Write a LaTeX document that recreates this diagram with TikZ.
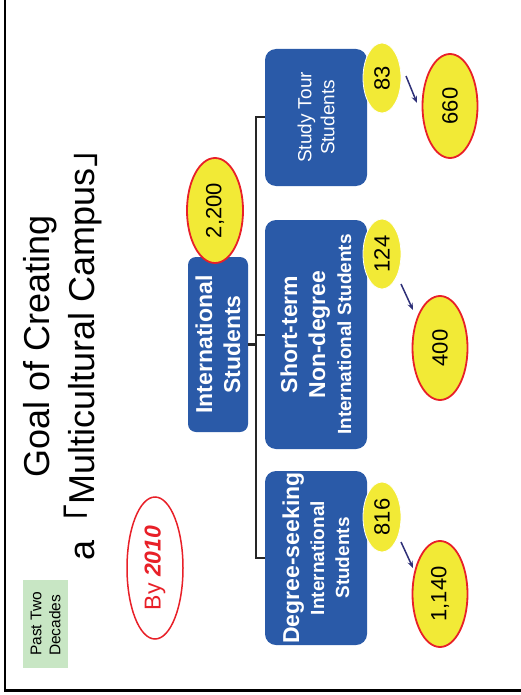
\documentclass[tikz,border=0pt]{standalone}
\usepackage{fontspec}
\setmainfont{Liberation Sans}
\newfontfamily\cjk{Noto Sans CJK JP}
\usetikzlibrary{shapes.geometric,arrows.meta,calc}
\definecolor{boxblue}{RGB}{42,90,168}
\definecolor{ylw}{RGB}{242,234,54}
\definecolor{rd}{RGB}{232,32,40}
\definecolor{lgreen}{RGB}{200,230,196}
\definecolor{navy}{RGB}{46,48,120}
\newcommand{\fsz}[2]{\fontsize{#1}{#2}\selectfont}
\begin{document}
\begin{tikzpicture}[x=1pt,y=-1pt,
  bluebox/.style={rectangle,rounded corners=11pt,fill=boxblue,text=white,rotate=90,align=center,inner sep=0pt},
  numsmall/.style={ellipse,fill=ylw,draw=white,line width=0.8pt,rotate=90,inner sep=0pt,minimum width=70pt,minimum height=38pt,font=\fsz{22}{26}},
  numbig/.style={ellipse,fill=ylw,draw=rd,line width=1.8pt,rotate=90,inner sep=0pt,font=\fsz{22}{26}},
  tree/.style={draw=black!85,line width=2pt},
  arr/.style={draw=navy,line width=1.5pt,-{Stealth[length=7pt,width=5.5pt]}},
]
\useasboundingbox (0,0) rectangle (521,695);
\draw[line width=2.5pt] (5,-10) -- (5,690.5) -- (530,690.5);

\node[fill=lgreen,rotate=90,minimum width=88pt,minimum height=45pt,align=left,inner sep=0pt,font=\fsz{15.5}{19}] (past) at (45.5,624) {Past Two\\Decades};

\node[rotate=90,align=center,font=\fsz{36}{45}] (title) at (63,346) {Goal of Creating\\a{\cjk「}Multicultural Campus{\cjk」}};

\node[ellipse,draw=rd,line width=1.5pt,fill=white,rotate=90,minimum width=142pt,minimum height=56pt,inner sep=0pt,text=rd,font=\fsz{23}{27}] (by) at (155,568) {By \textbf{\textit{2010}}};

\node[bluebox,minimum width=175pt,minimum height=60pt,rounded corners=8pt,font=\bfseries\fsz{23}{28}] (intl) at (218,344.5) {International\\Students};
\node[numbig,minimum width=105pt,minimum height=56pt] (e2200) at (215,210.5) {2,200};

\node[bluebox,minimum width=137pt,minimum height=102pt,font=\fsz{19}{23}] (study) at (316,117.5) {Study Tour\\Students};
\node[bluebox,minimum width=229pt,minimum height=102pt,font=\bfseries\fsz{23}{28}] (short) at (316,334.5) {Short-term\\Non-degree\\[-2pt]\fsz{19}{23}International Students};
\node[bluebox,minimum width=174pt,minimum height=102pt,font=\bfseries\fsz{19}{25}] (degree) at (316,558) {\fsz{23}{26}Degree-seeking\\International\\Students};

\draw[tree] (study.north) -- ++(-9,0) |- (degree.north);
\draw[tree] (short.north) -- ++(-9,0);
\draw[tree,line width=3pt] (intl.south) -- ++(8,0);

\node[numsmall] (e83) at (382,78) {83};
\node[numsmall] (e124) at (382,254) {124};
\node[numsmall] (e816) at (382,517) {816};

\node[numbig,minimum width=104pt,minimum height=55pt] (e660) at (450,106) {660};
\node[numbig,minimum width=104pt,minimum height=55pt] (e400) at (440,348) {400};
\node[numbig,minimum width=106pt,minimum height=55pt] (e1140) at (440,594) {1,140};

\draw[arr] ($(e83)+(24,-2)$) -- ($(e660)+(-33,-3)$);
\draw[arr] ($(e124)+(19,30)$) -- ($(e400)+(-27,-38)$);
\draw[arr] ($(e816)+(19,25)$) -- ($(e1140)+(-27,-26)$);
\end{tikzpicture}
\end{document}
